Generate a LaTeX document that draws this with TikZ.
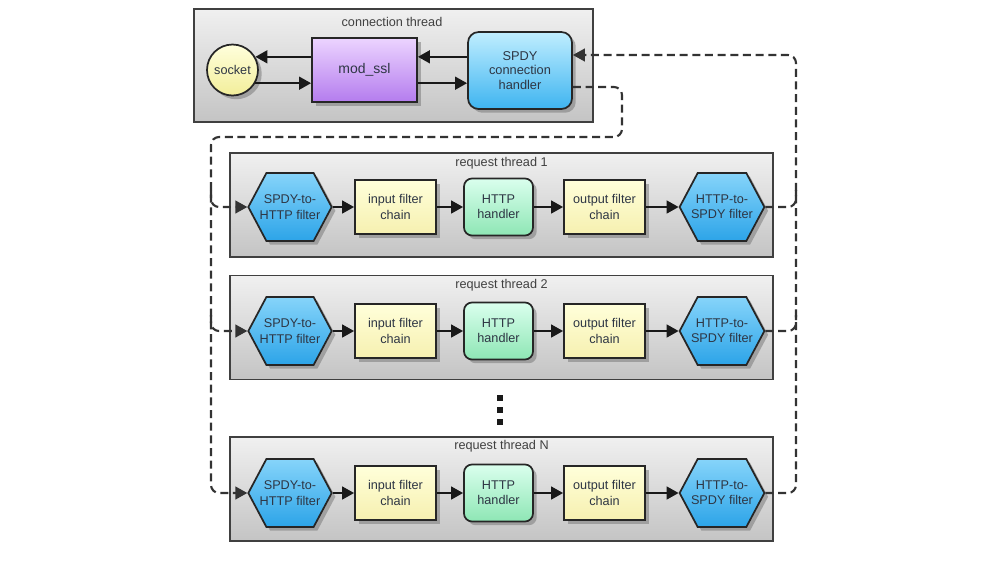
\documentclass[tikz,border=0pt]{standalone}
\usepackage{fontspec}
\setmainfont{Liberation Sans}
\usetikzlibrary{shapes.symbols,shadows,arrows.meta}
\definecolor{txt}{HTML}{2E3644}
\definecolor{thrTop}{HTML}{F0F0F0}
\definecolor{thrBot}{HTML}{C4C4C4}
\definecolor{sockTop}{HTML}{FFFFDC}
\definecolor{sockBot}{HTML}{F2EE9A}
\definecolor{sslTop}{HTML}{ECD4FF}
\definecolor{sslBot}{HTML}{B47CEE}
\definecolor{spdyTop}{HTML}{C0EEFF}
\definecolor{spdyBot}{HTML}{3EB4F0}
\definecolor{hexTop}{HTML}{86D4FA}
\definecolor{hexBot}{HTML}{2CA4E8}
\definecolor{fltTop}{HTML}{FFFFDA}
\definecolor{fltBot}{HTML}{F6F0B0}
\definecolor{httpTop}{HTML}{DAFFEE}
\definecolor{httpBot}{HTML}{8EE6B4}
\begin{document}
\begin{tikzpicture}[x=0.75pt,y=-0.75pt,
  every node/.style={font=\fontsize{9.5}{11.5}\selectfont, text=txt, align=center},
  threadbox/.style={draw=black!75, line width=1.4pt, top color=thrTop, bottom color=thrBot, inner sep=0pt},
  reqbox/.style={threadbox, minimum width=407.25pt, minimum height=78pt},
  ttl/.style={font=\fontsize{9.5}{11}\selectfont, text=black!75},
  elem/.style={draw=black!85, line width=1.3pt, inner sep=1pt, drop shadow={shadow xshift=2.8pt, shadow yshift=-2.8pt, fill=black!55}},
  hexa/.style={elem, shape=signal, signal to=west and east, signal pointer angle=124, minimum height=51pt, top color=hexTop, bottom color=hexBot, inner xsep=-5pt, inner ysep=0pt},
  flt/.style={elem, rectangle, minimum width=60.75pt, minimum height=40.5pt, top color=fltTop, bottom color=fltBot},
  httpbox/.style={elem, rectangle, rounded corners=6pt, minimum width=51.75pt, minimum height=42.75pt, top color=httpTop, bottom color=httpBot},
  arr/.style={line width=1.8pt, draw=black!90, -{Triangle[length=9pt,width=9.5pt]}},
  dline/.style={line width=1.6pt, draw=black!80, dash pattern=on 6pt off 3.5pt, rounded corners=6pt, -{Triangle[length=9pt,width=9.5pt]}},
  dlineplain/.style={line width=1.6pt, draw=black!80, dash pattern=on 6pt off 3.5pt, rounded corners=6pt},
  dotbox/.style={fill=black!90, minimum size=4pt, inner sep=0pt}
]
\fill[white] (0,0) rectangle (1000,562);
\useasboundingbox (0,0) rectangle (1000,562);

% connection thread
\node[threadbox, minimum width=299.25pt, minimum height=84.75pt] (ct) at (393.5,65.5) {};
\node[ttl] (ctt) at (392,22) {connection thread};
\node[elem, circle, minimum size=38.25pt, inner sep=0pt, top color=sockTop, bottom color=sockBot] (socket) at (232.5,70) {socket};
\node[elem, rectangle, minimum width=78.75pt, minimum height=48pt, top color=sslTop, bottom color=sslBot, font=\fontsize{10.5}{12}\selectfont] (ssl) at (364.5,70) {mod\_ssl};
\node[elem, rectangle, rounded corners=8pt, minimum width=78pt, minimum height=57.75pt, top color=spdyTop, bottom color=spdyBot, font=\fontsize{9.6}{11}\selectfont] (spdy) at (520,70.5) {SPDY\\connection\\handler};

\draw[arr] (socket.30 -| spdy.west) -- (socket.30 -| ssl.east);
\draw[arr] (socket.30 -| ssl.west) -- (socket.30);
\draw[arr] (socket.-30) -- (socket.-30 -| ssl.west);
\draw[arr] (socket.-30 -| ssl.east) -- (socket.-30 -| spdy.west);

% request threads
\foreach \n/\cy/\ty/\ry/\lab in {a/205/163/207/1, b/327.5/285/331/2, c/489/446/493/N}{
  \node[reqbox] (t\n) at (501.5,\cy) {};
  \node[ttl] (t\n t) at (501.5,\ty) {request thread \lab};
  \node[hexa] (s\n) at (290,\ry) {SPDY-to-\\HTTP filter};
  \node[flt] (i\n) at (395.5,\ry) {input filter\\chain};
  \node[httpbox] (h\n) at (498.5,\ry) {HTTP\\handler};
  \node[flt] (o\n) at (604.5,\ry) {output filter\\chain};
  \node[hexa] (r\n) at (722,\ry) {HTTP-to-\\SPDY filter};
  \draw[arr] (s\n.east) -- (i\n.west);
  \draw[arr] (i\n.east) -- (h\n.west);
  \draw[arr] (h\n.east) -- (o\n.west);
  \draw[arr] (o\n.east) -- (r\n.west);
}

% dots
\node[dotbox] (d1) at (500,398) {};
\node[dotbox] (d2) at (500,410) {};
\node[dotbox] (d3) at (500,422) {};

% dashed connectors, left side
\draw[dline] (spdy.east |- 0,87) -- (622,87) -- (622,137) -- (211,137) |- (sc.west);
\draw[dline] (211,190) |- (sa.west);
\draw[dline] (211,315) |- (sb.west);

% dashed connectors, right side
\draw[dline] (rc.east) -| (796,55) -- (spdy.east |- 0,55);
\draw[dlineplain] (ra.east) -| (796,190);
\draw[dlineplain] (rb.east) -| (796,315);
\end{tikzpicture}
\end{document}
